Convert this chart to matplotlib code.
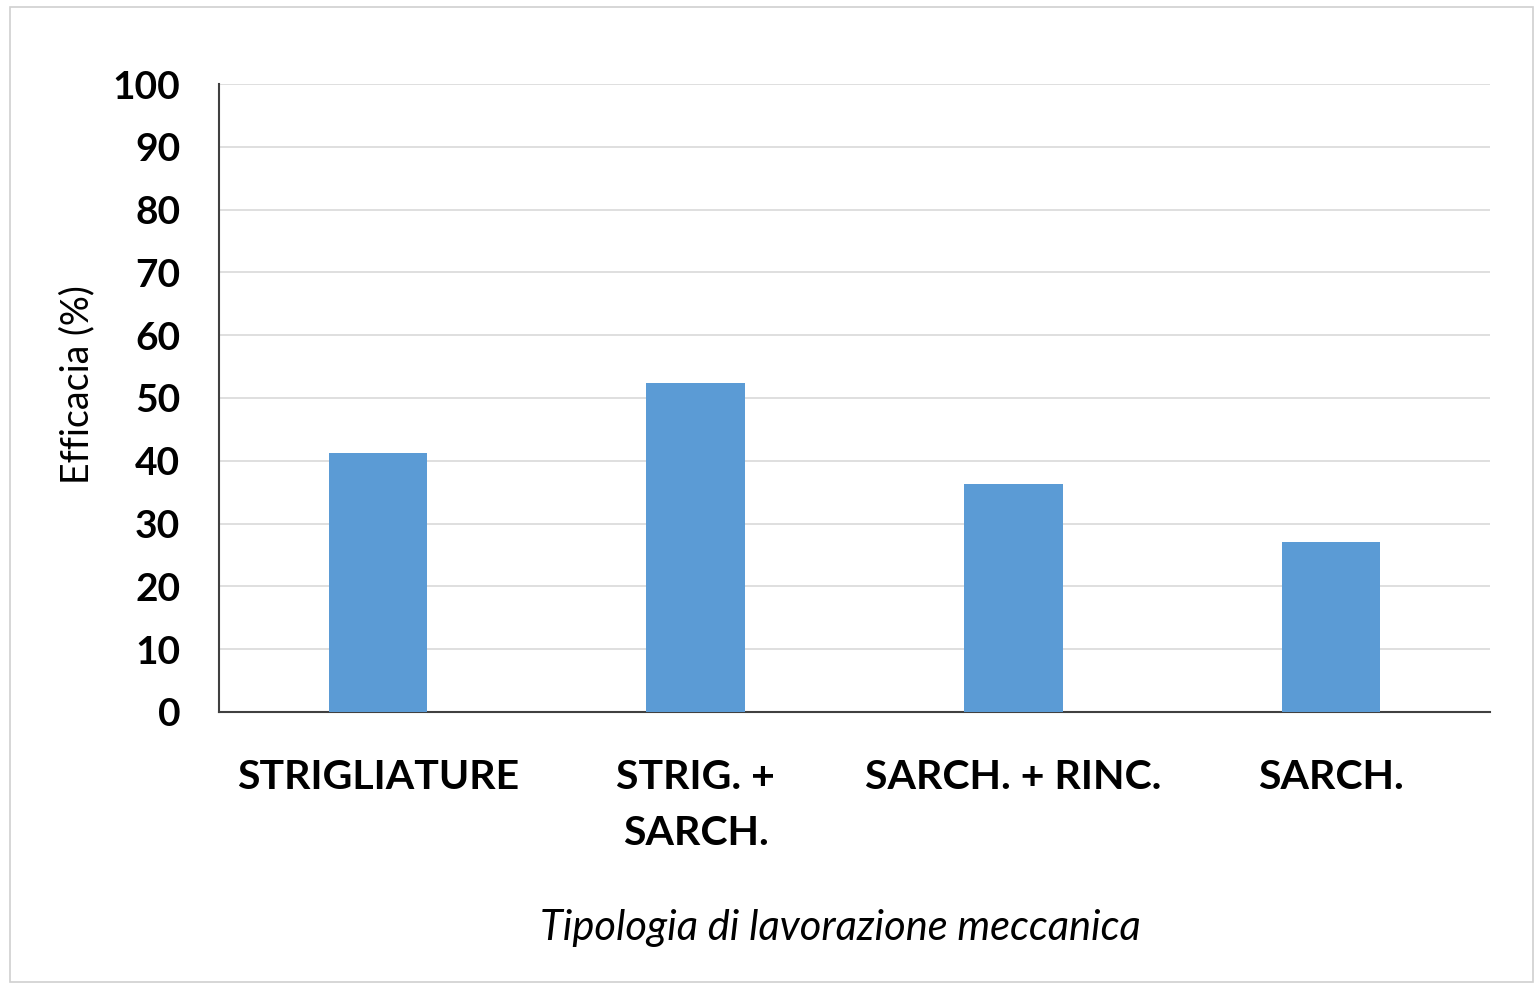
import matplotlib.pyplot as plt
from matplotlib.patches import Rectangle

# dati
categorie = ["STRIGLIATURE", "STRIG. +\nSARCH.", "SARCH. + RINC.", "SARCH."]
efficacia = [41.3, 52.4, 36.3, 27.1]
yticks = [0, 10, 20, 30, 40, 50, 60, 70, 80, 90, 100]

plt.rcParams['font.family'] = ['Lato', 'DejaVu Sans']

fig = plt.figure(figsize=(15.35, 9.85), dpi=100)
ax = fig.add_axes([0.1427, 0.2772, 0.828, 0.6375])

x = range(len(categorie))
ax.bar(x, efficacia, width=0.31, color="#5b9bd5", zorder=3)

ax.set_xlim(-0.5, len(categorie) - 0.5)
ax.set_ylim(0, 100)
ax.set_yticks(yticks)
ax.set_yticklabels([str(v) for v in yticks], fontsize=28, fontweight="bold")
ax.set_xticks(list(x))
ax.set_xticklabels(categorie, fontsize=29.5, fontweight="bold", linespacing=1.62, va="top")
ax.tick_params(axis="both", length=0)
ax.tick_params(axis="x", pad=34)
ax.tick_params(axis="y", pad=28)

ax.grid(axis="y", color="#d9d9d9", linewidth=1.2, zorder=0)
for s in ["top", "right"]:
    ax.spines[s].set_visible(False)
ax.spines["left"].set_color("#404040")
ax.spines["bottom"].set_color("#404040")
ax.spines["left"].set_linewidth(1.5)
ax.spines["bottom"].set_linewidth(1.5)

fig.text(77 / 1535, 1 - 385 / 985, "Efficacia (%)", fontsize=27, rotation=90,
         ha="center", va="center")
fig.text(840 / 1535, 1 - 928 / 985, "Tipologia di lavorazione meccanica", fontsize=30,
         style="italic", ha="center", va="center")

# cornice esterna
fig.patches.append(Rectangle((0.0065, 0.003), 0.9925, 0.99, transform=fig.transFigure,
                             fill=False, edgecolor="#d0d0d0", linewidth=1.2))

fig.savefig("out.png", dpi=100)
